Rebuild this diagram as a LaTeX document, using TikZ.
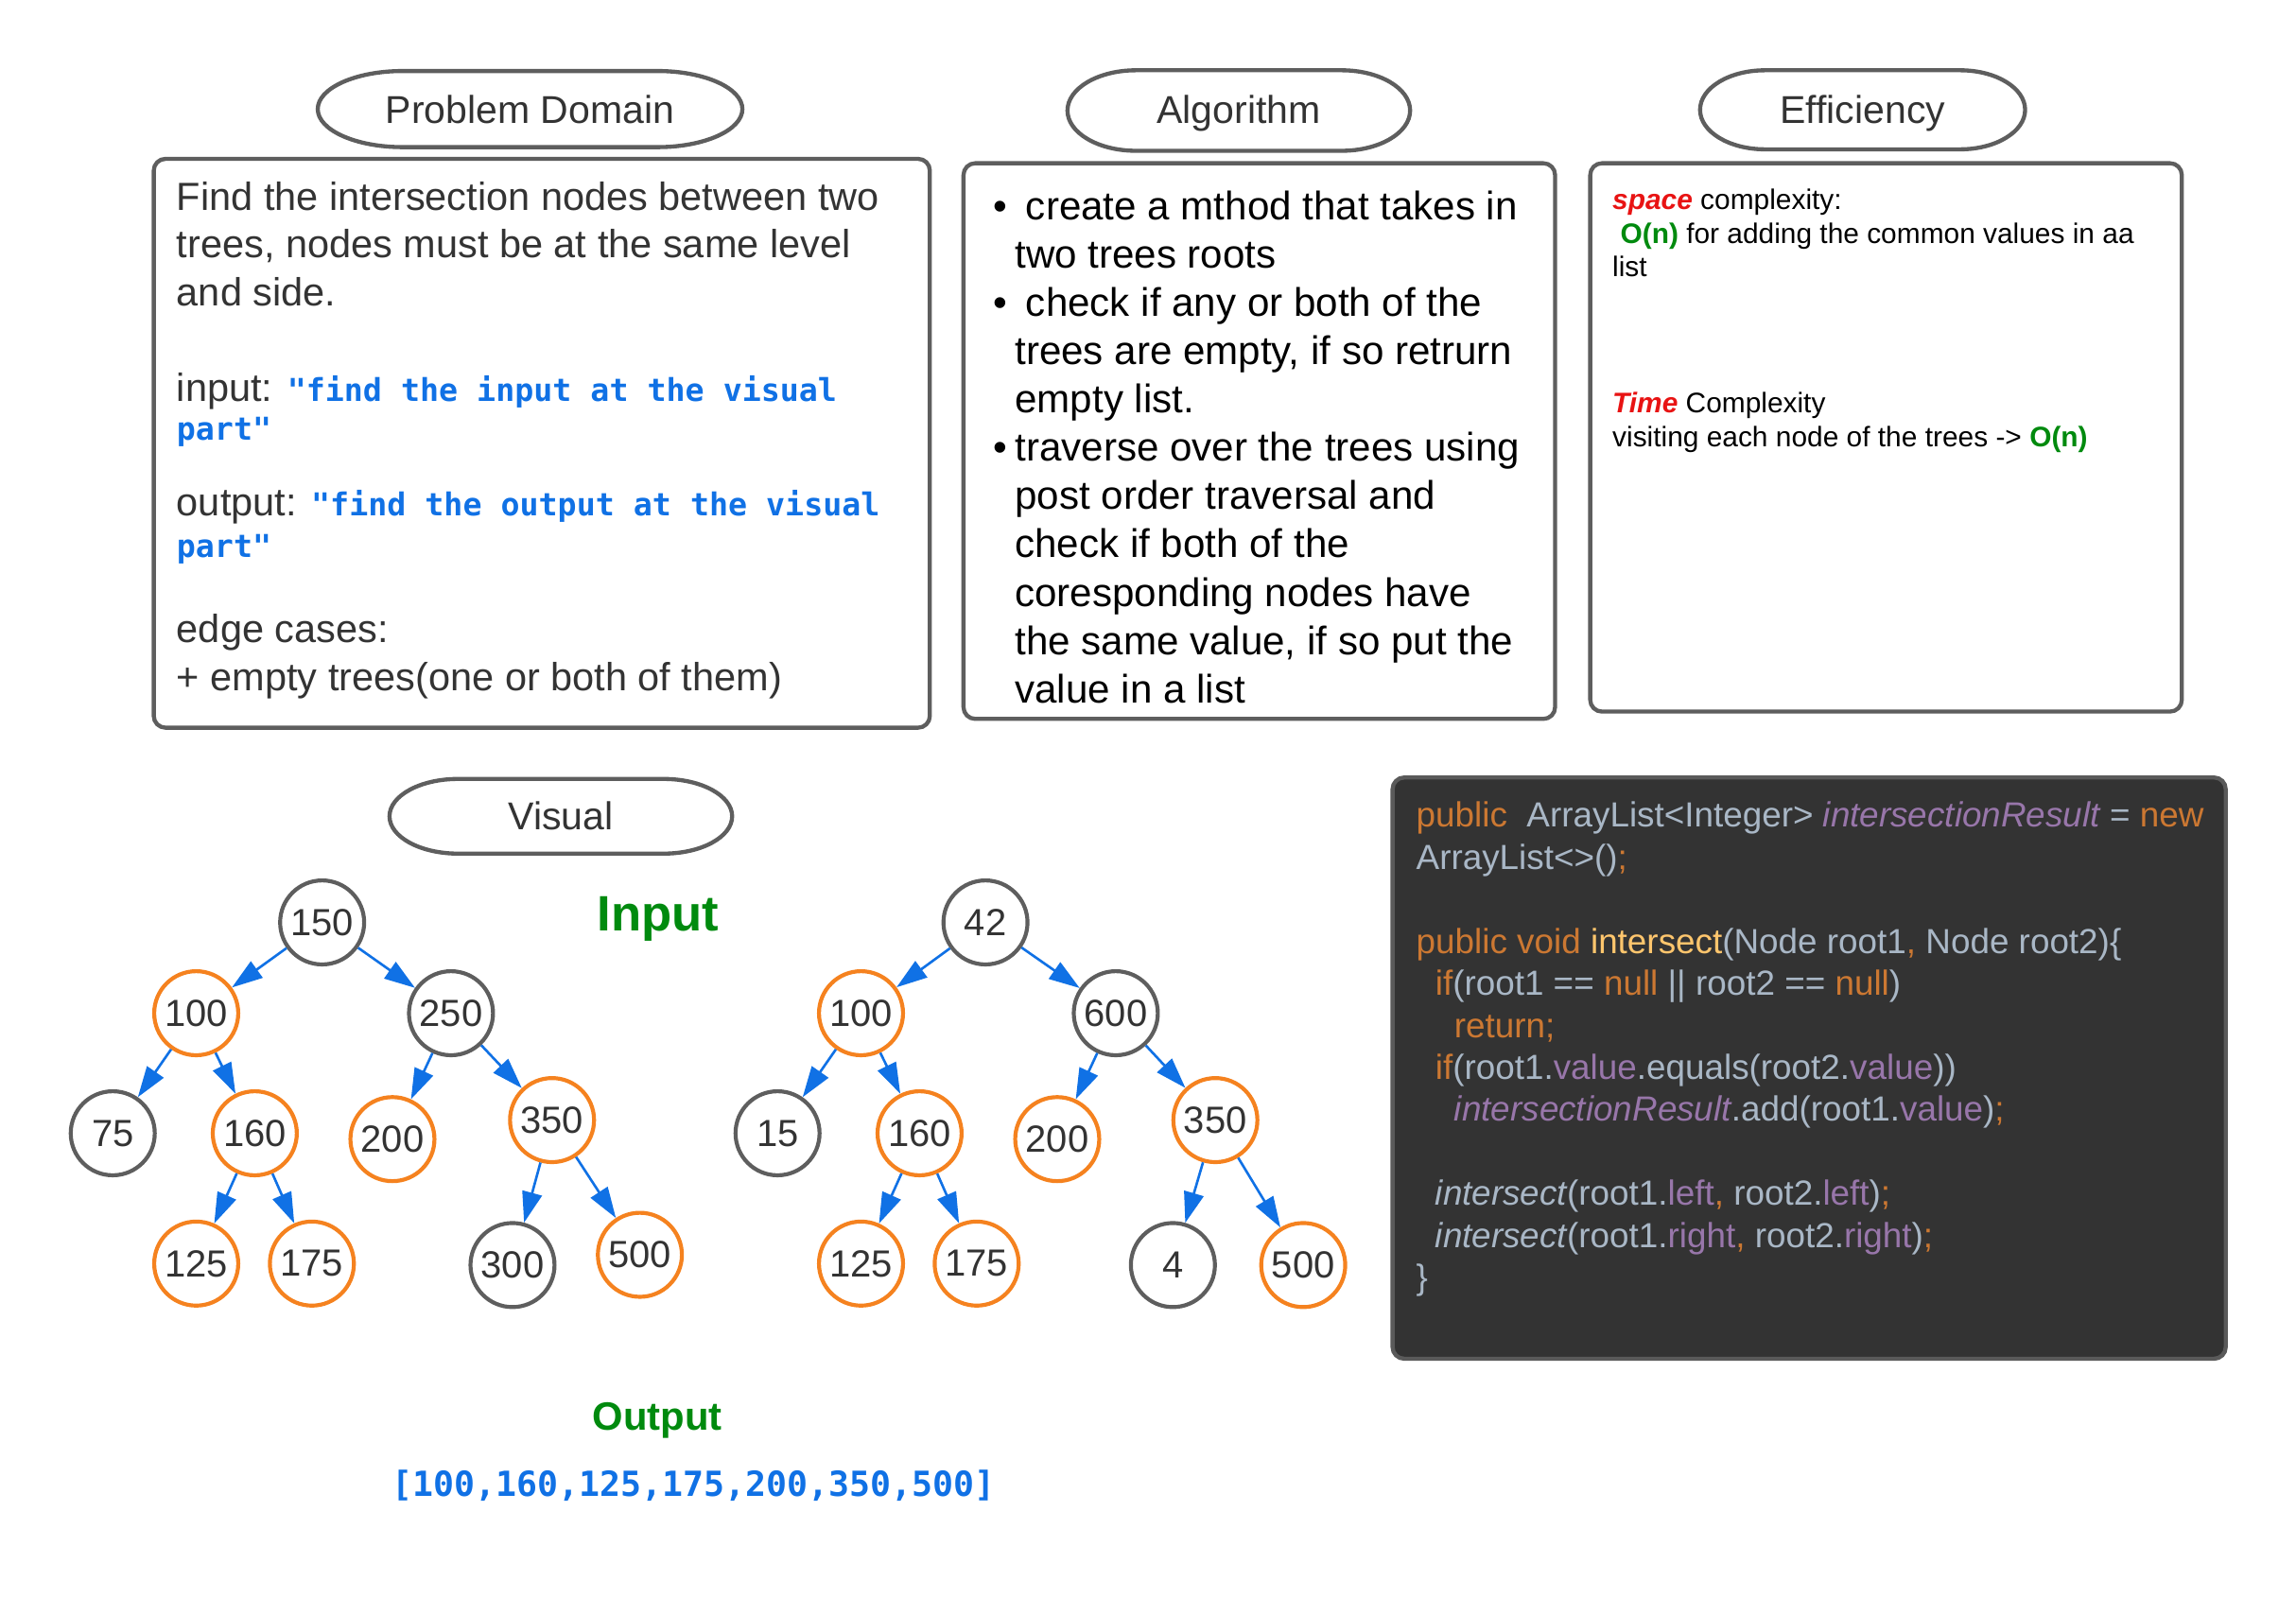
\documentclass[tikz,border=0pt]{standalone}
\usepackage{fontspec}
\setmainfont{Liberation Sans}
\setmonofont{DejaVu Sans Mono}
\usetikzlibrary{arrows.meta}
\definecolor{txt}{HTML}{333333}
\definecolor{edge}{HTML}{5E5E5E}
\definecolor{bl}{HTML}{1071E5}
\definecolor{org}{HTML}{F5821F}
\definecolor{grn}{HTML}{008A0E}
\definecolor{rd}{HTML}{E81313}
\definecolor{ckw}{HTML}{CC7832}
\definecolor{ctx}{HTML}{A9B7C6}
\definecolor{cpu}{HTML}{9876AA}
\definecolor{cfn}{HTML}{FFC66D}
\definecolor{cbg}{HTML}{333333}
\definecolor{cedge}{HTML}{5A5A5A}
\newcommand\fs[2]{\fontsize{#1}{#2}\selectfont}
\newcommand\kwd[1]{\textcolor{ckw}{#1}}
\newcommand\pur[1]{\textcolor{cpu}{#1}}
\newcommand\fnc[1]{\textcolor{cfn}{#1}}
\newcommand\mon[1]{{\ttfamily\bfseries\fs{21.5}{32.6}\color{bl}#1}}
\newcommand\bul{\leavevmode\llap{\textbullet\hspace{5.3pt}}}
\newcommand\stadium[4]{%
 \draw[hdrline] ({#1-#3/2+0.2*#3},{#2-#4/2}) -- ({#1+#3/2-0.2*#3},{#2-#4/2})
   .. controls ({#1+#3/2-0.2*#3+0.5523*0.2*#3},{#2-#4/2}) and ({#1+#3/2},{#2-0.5523*#4/2}) .. ({#1+#3/2},{#2})
   .. controls ({#1+#3/2},{#2+0.5523*#4/2}) and ({#1+#3/2-0.2*#3+0.5523*0.2*#3},{#2+#4/2}) .. ({#1+#3/2-0.2*#3},{#2+#4/2})
   -- ({#1-#3/2+0.2*#3},{#2+#4/2})
   .. controls ({#1-#3/2+0.2*#3-0.5523*0.2*#3},{#2+#4/2}) and ({#1-#3/2},{#2+0.5523*#4/2}) .. ({#1-#3/2},{#2})
   .. controls ({#1-#3/2},{#2-0.5523*#4/2}) and ({#1-#3/2+0.2*#3-0.5523*0.2*#3},{#2-#4/2}) .. ({#1-#3/2+0.2*#3},{#2-#4/2}) -- cycle;}
\tikzset{
 hdrline/.style={draw=edge, line width=2.8pt},
 hdrtxt/.style={anchor=base, inner sep=0pt, text=txt, font=\fs{26.5}{31}},
 box/.style={draw=edge, line width=2.8pt, rounded corners=8pt},
 tn/.style={circle, line width=2.7pt, minimum size=57.4pt, inner sep=0pt, fill=white, text=txt, font=\fs{25.8}{30}},
 gn/.style={tn, draw=edge},
 on/.style={tn, draw=org},
 arr/.style={draw=bl, line width=1.7pt, -{Triangle[length=21pt,width=13.6pt]}},
 blk/.style={anchor=base west, inner sep=0pt}
}
\begin{document}
\begin{tikzpicture}[x=1pt, y=-1pt]
\useasboundingbox (0,0) rectangle (1568,1090.8);

% headers
\stadium{362}{74.5}{290}{52}
\node[hdrtxt] (hpd) at (362,84.5) {Problem Domain};
\stadium{846}{75.5}{234}{55}
\node[hdrtxt] (halg) at (846,84.5) {Algorithm};
\stadium{1272}{75}{222}{54}
\node[hdrtxt] (heff) at (1272,84.5) {Efficiency};
\stadium{383}{557.5}{234}{51}
\node[hdrtxt] (hvis) at (383,566.5) {Visual};

% boxes
\draw[box] (105,108.5) rectangle (635,497);
\draw[box] (658,111.5) rectangle (1062,491);
\draw[box] (1086,111.5) rectangle (1490,486);
\draw[fill=cbg, draw=cedge, line width=2.8pt, rounded corners=8pt] (951,531) rectangle (1520,928);

% problem domain text
\node[blk] (pdtext) at (120.5,143.6) {\parbox[t]{520pt}{\raggedright\fs{26.8}{32.6}\leavevmode\color{txt}%
Find the intersection nodes between two\\
trees, nodes must be at the same level\\
and side.\\[32.6pt]
input: \mon{"find the input at the visual}\\[-5.9pt]
\mon{part"}\\[19.2pt]
output: \mon{"find the output at the visual}\\[-4.4pt]
\mon{part"}\\[25.8pt]
edge cases:\\
+ empty trees(one or both of them)}};

% algorithm text
\node[blk] (algtext) at (693,150) {\parbox[t]{365pt}{\raggedright\fs{27.2}{33}\leavevmode\color{black}%
\bul\hspace*{7.5pt}create a mthod that takes in\\
two trees roots\\
\bul\hspace*{7.5pt}check if any or both of the\\
trees are empty, if so retrurn\\
empty list.\\
\bul traverse over the trees using\\
post order traversal and\\
check if both of the\\
coresponding nodes have\\
the same value, if so put the\\
value in a list}};

% efficiency text
\node[blk] (efftext) at (1101,143) {\parbox[t]{385pt}{\raggedright\fs{19.3}{23}\leavevmode\color{black}%
\textcolor{rd}{\bfseries\itshape space} complexity:\\
\hspace*{5.4pt}\textcolor{grn}{\bfseries O(n)} for adding the common values in aa\\
list\\[70pt]
\textcolor{rd}{\bfseries\itshape Time} Complexity\\
visiting each node of the trees -> \textcolor{grn}{\bfseries O(n)}}};

% code
\node[blk] (code) at (967,565) {\parbox[t]{560pt}{\raggedright\fs{23.8}{28.7}\leavevmode\color{ctx}%
\kwd{public}\ \ ArrayList<Integer> \pur{\itshape intersectionResult} = \kwd{new}\\
ArrayList<>()\kwd{;}\\[28.7pt]
\kwd{public void} \fnc{intersect}(Node root1\kwd{,} Node root2)\{\\
\hspace*{13pt}\kwd{if}(root1 == \kwd{null} || root2 == \kwd{null})\\
\hspace*{26pt}\kwd{return;}\\
\hspace*{13pt}\kwd{if}(root1.\pur{value}.equals(root2.\pur{value}))\\
\hspace*{26pt}\pur{\itshape intersectionResult}.add(root1.\pur{value})\kwd{;}\\[28.7pt]
\hspace*{13pt}{\itshape intersect}(root1.\pur{left}\kwd{,} root2.\pur{left})\kwd{;}\\
\hspace*{13pt}{\itshape intersect}(root1.\pur{right}\kwd{,} root2.\pur{right})\kwd{;}\\
\}}};

% labels
\node[blk, font=\bfseries\fs{34}{40}, text=grn] (inputlbl) at (407.7,636) {Input};
\node[anchor=base, inner sep=0pt, font=\bfseries\fs{27}{32}, text=grn] (outputlbl) at (449,977) {Output};
\node[anchor=base, inner sep=0pt, font=\ttfamily\bfseries\fs{23.6}{28}, text=bl] (outlist) at (473.5,1022) {[100,160,125,175,200,350,500]};

% left tree
\node[gn] (r1) at (220,630) {150};
\node[on] (a1) at (134,692) {100};
\node[gn] (b1) at (308,692) {250};
\node[gn] (c1) at (77,774) {75};
\node[on] (d1) at (174,774) {160};
\node[on] (e1) at (268,778) {200};
\node[on] (f1) at (377,765) {350};
\node[on] (g1) at (134,863) {125};
\node[on] (h1) at (213,863) {175};
\node[gn] (i1) at (350,864) {300};
\node[on] (j1) at (437,857) {500};
% right tree
\node[gn] (r2) at (673,630) {42};
\node[on] (a2) at (588,692) {100};
\node[gn] (b2) at (762,692) {600};
\node[gn] (c2) at (531,774) {15};
\node[on] (d2) at (628,774) {160};
\node[on] (e2) at (722,778) {200};
\node[on] (f2) at (830,765) {350};
\node[on] (g2) at (588,863) {125};
\node[on] (h2) at (667,863) {175};
\node[gn] (i2) at (801,864) {4};
\node[on] (j2) at (890,864) {500};

\foreach \t in {1,2}{
 \draw[arr] (r\t) -- (a\t);
 \draw[arr] (r\t) -- (b\t);
 \draw[arr] (a\t) -- (c\t);
 \draw[arr] (a\t) -- (d\t);
 \draw[arr] (b\t) -- (e\t);
 \draw[arr] (b\t) -- (f\t);
 \draw[arr] (d\t) -- (g\t);
 \draw[arr] (d\t) -- (h\t);
 \draw[arr] (f\t) -- (i\t);
 \draw[arr] (f\t) -- (j\t);
}
\end{tikzpicture}
\end{document}
